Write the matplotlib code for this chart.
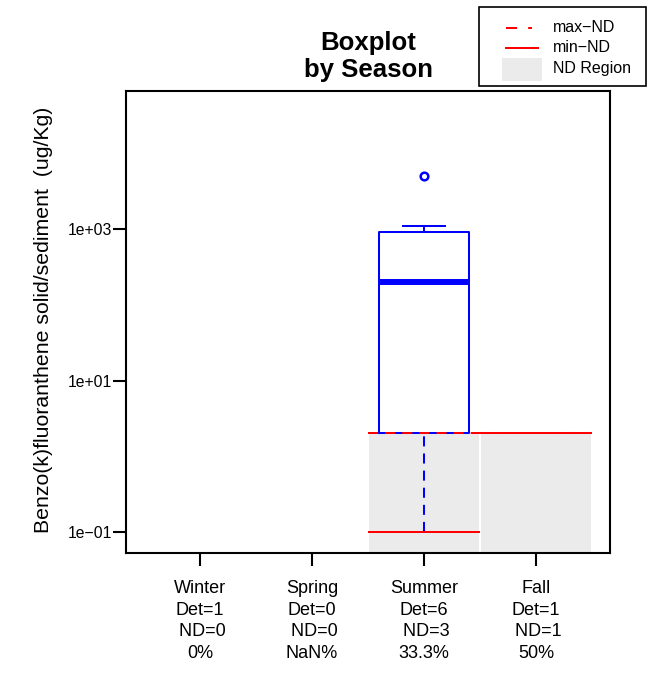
import numpy as np
import matplotlib
matplotlib.use("Agg")
import matplotlib.pyplot as plt
from matplotlib.lines import Line2D
from matplotlib.patches import Rectangle

plt.rcParams['font.family'] = ['Liberation Sans', 'DejaVu Sans']

seasons = ['Winter', 'Spring', 'Summer', 'Fall']
det = [1, 0, 6, 1]
nd = [0, 0, 3, 1]
pct = ['0%', 'NaN%', '33.3%', '50%']
max_nd = [np.nan, np.nan, 2.0, 2.0]
min_nd = [np.nan, np.nan, 0.1, 2.0]

# Summer box statistics
summer_q1 = 2.0
summer_med = 200.0
summer_q3 = 900.0
summer_whishi = 1100.0
summer_whislo = 0.1
summer_fliers = [5000.0]

legend_labels = ['max\u2212ND', 'min\u2212ND', 'ND Region']

W, H = 654, 677
fig = plt.figure(figsize=(W / 100, H / 100), dpi=100)
L, R, T, B = 126, 610, 91, 553
ax = fig.add_axes([L / W, 1 - B / H, (R - L) / W, (B - T) / H])
ax.set_yscale('log')
ylo, yhi = 10**(-1.277), 10**(4.822)
ax.set_xlim(0.34, 4.66)
ax.set_ylim(ylo, yhi)

GREY = '#ebebeb'
LW = 1.45
DASH = (0, (5, 3.5))

# ND regions
for i, mx in enumerate(max_nd):
    x = i + 1
    if np.isnan(mx):
        continue
    ax.fill_between([x - 0.5 + 0.006, x + 0.5 - 0.006], ylo, mx, color=GREY, lw=0, zorder=1)

# Summer box
ax.bxp([dict(med=summer_med, q1=summer_q1, q3=summer_q3, whislo=summer_q1,
             whishi=summer_whishi, fliers=summer_fliers)],
       positions=[3], widths=0.8, showcaps=False, manage_ticks=False,
       boxprops=dict(color='blue', lw=LW),
       medianprops=dict(color='blue', lw=4.3, solid_capstyle='butt'),
       whiskerprops=dict(color='blue', lw=LW),
       flierprops=dict(marker='o', markerfacecolor='none', markeredgecolor='blue',
                       markersize=5.5, markeredgewidth=1.8),
       zorder=3)
ax.hlines(summer_whishi, 3 - 0.2, 3 + 0.2, color='blue', lw=LW, zorder=3)
ax.vlines(3, summer_whislo, summer_q1, color='blue', lw=LW, linestyles=DASH, zorder=3)

for i, (mx, mn) in enumerate(zip(max_nd, min_nd)):
    x = i + 1
    if np.isnan(mx):
        continue
    ax.hlines(mn, x - 0.5, x + 0.5, color='red', lw=LW, zorder=4)
    ax.hlines(mx, x - 0.5, x + 0.5, color='red', lw=LW, linestyles=DASH, zorder=4)

ax.set_yticks([0.1, 10, 1000])
ax.set_yticklabels(['1e\u221201', '1e+01', '1e+03'])
ax.yaxis.set_minor_locator(matplotlib.ticker.NullLocator())
ax.set_xticks([1, 2, 3, 4])
ax.set_xticklabels([f"{s}\nDet={d}\n ND={n}\n{p}" for s, d, n, p in zip(seasons, det, nd, pct)],
                   fontsize=13, linespacing=1.36)
ax.tick_params(axis='x', length=9.5, width=1.5, pad=10)
ax.tick_params(axis='y', length=9.5, width=1.5, labelsize=11.3, pad=0.5)
for sp in ax.spines.values():
    sp.set_linewidth(1.5)

fig.text(44 / W, 1 - 320 / H, 'Benzo(k)fluoranthene solid/sediment  (ug/Kg)',
         rotation=90, ha='center', va='center', fontsize=15.3)
ax.set_title('Boxplot\nby Season', fontsize=18.5, fontweight='bold', pad=10, linespacing=1.16)

# Legend drawn in figure pixel coordinates
def fx(x):
    return x / W

def fy(y):
    return 1 - y / H

fig.patches.append(Rectangle((fx(479), fy(86)), (646 - 479) / W, (86 - 7) / H,
                             transform=fig.transFigure, facecolor='white',
                             edgecolor='black', lw=1.2))
fig.lines.append(Line2D([fx(506), fx(532)], [fy(28), fy(28)], transform=fig.transFigure,
                        color='red', lw=LW, ls=(0, (5.5, 5.5))))
fig.lines.append(Line2D([fx(506), fx(538)], [fy(48), fy(48)], transform=fig.transFigure,
                        color='red', lw=LW))
fig.patches.append(Rectangle((fx(502), fy(81)), 40 / W, 23 / H, transform=fig.transFigure,
                             facecolor=GREY, edgecolor='none'))
for lab, yy in zip(legend_labels, [28, 48, 69]):
    fig.text(fx(553), fy(yy), lab, ha='left', va='center', fontsize=11.5)

fig.savefig('out.png', dpi=100)
